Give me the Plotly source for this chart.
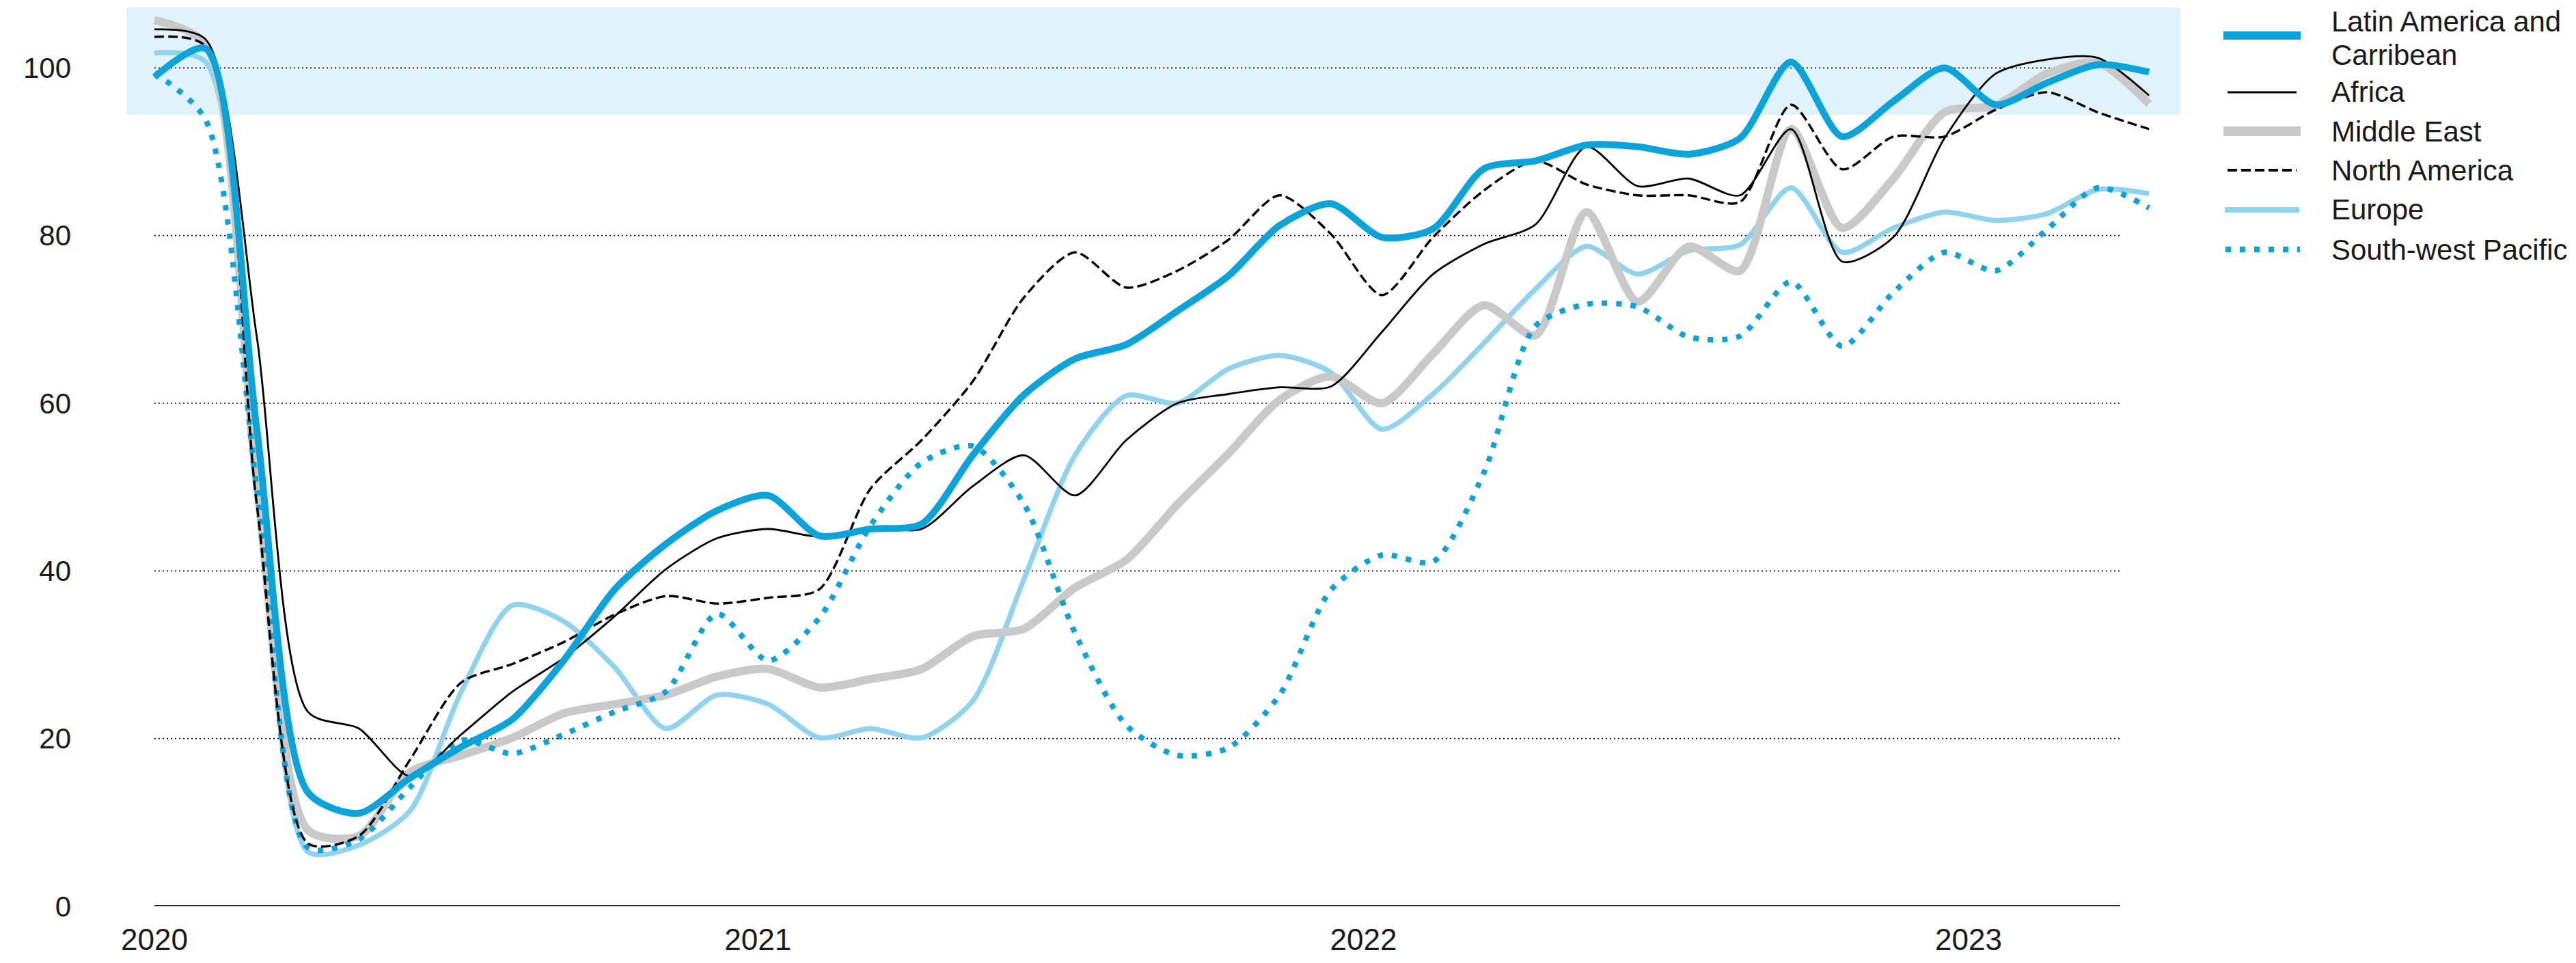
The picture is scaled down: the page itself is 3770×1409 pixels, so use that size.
import plotly.graph_objects as go

# ---------------- data (monthly, Jan 2020 - Apr 2023) ----------------
latin_america = [98.9, 102.3, 57.0, 13.6, 11.1, 15.3, 19.0, 22.3, 29.3, 37.8,
                 43.2, 47.2, 49.0, 44.2, 45.0, 45.6, 53.8, 61.0, 65.3, 67.0,
                 71.0, 75.2, 81.2, 83.8, 79.8, 80.8, 88.0, 88.9, 90.8, 90.6,
                 89.7, 91.6, 100.7, 91.8, 96.0, 100.0, 95.6, 98.2, 100.4, 99.5]
africa = [104.6, 103.4, 68.0, 23.2, 21.2, 15.5, 20.5, 25.6, 29.6, 34.6,
          40.2, 43.9, 45.0, 44.1, 45.2, 45.0, 50.1, 53.8, 49.0, 55.6,
          60.0, 61.1, 61.9, 62.0, 68.5, 75.4, 79.0, 81.3, 90.6, 85.9,
          86.8, 84.8, 92.7, 76.9, 79.8, 91.6, 99.3, 101.0, 101.2, 96.7]
middle_east = [105.7, 102.8, 50.5, 9.1, 8.4, 16.0, 18.0, 20.1, 23.0, 24.1,
               25.2, 27.4, 28.3, 26.1, 27.1, 28.3, 32.2, 33.1, 38.0, 41.3,
               47.9, 54.0, 60.4, 63.2, 60.0, 65.9, 71.7, 68.1, 82.8, 72.1,
               78.7, 75.8, 92.7, 80.9, 86.8, 94.7, 95.5, 99.3, 100.6, 95.7]
north_america = [103.7, 102.6, 48.0, 7.5, 8.4, 17.5, 26.7, 28.9, 31.5, 34.8,
                 37.0, 36.1, 36.8, 37.8, 49.8, 55.6, 62.6, 72.6, 78.0, 73.8,
                 75.8, 79.5, 84.8, 80.2, 72.9, 79.8, 85.4, 88.9, 86.1, 84.8,
                 84.8, 84.0, 95.6, 87.9, 91.8, 91.8, 95.0, 97.1, 94.7, 92.7]
europe = [101.8, 100.7, 53.0, 6.5, 7.3, 11.4, 25.6, 35.9, 34.0, 28.5,
          21.2, 25.2, 24.1, 20.1, 21.2, 20.1, 24.5, 39.0, 53.8, 60.9,
          60.0, 64.1, 65.7, 63.7, 56.9, 61.1, 67.2, 73.6, 78.7, 75.4,
          78.2, 78.9, 85.7, 78.0, 80.9, 82.8, 81.8, 82.6, 85.5, 85.0]
south_west_pacific = [99.4, 93.8, 50.0, 7.0, 8.0, 14.2, 19.8, 18.2, 20.5, 23.2,
                      25.6, 34.9, 29.3, 34.4, 45.4, 52.9, 54.9, 48.0, 32.6, 21.6,
                      18.0, 18.9, 25.2, 37.7, 41.9, 41.1, 51.8, 69.2, 71.8, 71.5,
                      67.9, 68.0, 74.5, 66.8, 73.2, 78.0, 75.8, 80.7, 85.7, 83.3]

series_names = ["Latin America and Carribean", "Africa", "Middle East",
                "North America", "Europe", "South-west Pacific"]
legend_text_lines = [["Latin America and", "Carribean"], ["Africa"], ["Middle East"],
                     ["North America"], ["Europe"], ["South-west Pacific"]]
year_labels = ["2020", "2021", "2022", "2023"]
y_ticks = [0, 20, 40, 60, 80, 100]
recovery_band = [94.4, 107.2]

month_index = list(range(len(latin_america)))

# ---------------- styling ----------------
# the page body has an 8px margin; the figure is sized/positioned to compensate
OFF = 8
W, H = 3770 - 2 * OFF, 1409 - 2 * OFF
PLOT_L, PLOT_R, PLOT_T, PLOT_B = 185 - OFF, 3191 - OFF, 11 - OFF, 1326 - OFF
ML, MR, MT, MB = PLOT_L, W - PLOT_R, PLOT_T, H - PLOT_B
PW = PLOT_R - PLOT_L
PH = PLOT_B - PLOT_T
FONT = "Liberation Sans, Arial, sans-serif"
TXT = "#1a1a1a"

BLUE = "#0AA3DA"
GREY = "#C9C9C9"
LIGHT = "#8FD3EF"
BLACK = "#000000"

styles = {
    "Latin America and Carribean": dict(color=BLUE, width=10, dash="solid"),
    "Africa": dict(color=BLACK, width=2.8, dash="solid"),
    "Middle East": dict(color=GREY, width=12, dash="solid"),
    "North America": dict(color=BLACK, width=3.4, dash="14px,6px"),
    "Europe": dict(color=LIGHT, width=7.5, dash="solid"),
    "South-west Pacific": dict(color=BLUE, width=8, dash="8px,13px"),
}
values = {
    "Latin America and Carribean": latin_america,
    "Africa": africa,
    "Middle East": middle_east,
    "North America": north_america,
    "Europe": europe,
    "South-west Pacific": south_west_pacific,
}
draw_order = ["Europe", "Middle East", "South-west Pacific", "North America",
              "Africa", "Latin America and Carribean"]

# month spacing in (screen) pixels / axis range
X0_PX = 226.0
STEP_PX = 74.85
x_min = (185 - X0_PX) / STEP_PX
x_max = (3191 - X0_PX) / STEP_PX
grid_end = (3103 - X0_PX) / STEP_PX
year_tick_pos = [0, 11.8, 23.64, 35.47]

fig = go.Figure()
for name in draw_order:
    s = styles[name]
    fig.add_trace(go.Scatter(
        x=month_index, y=values[name], mode="lines", name=name,
        line=dict(color=s["color"], width=s["width"], dash=s["dash"],
                  shape="spline", smoothing=0.75),
        hoverinfo="skip", showlegend=False,
    ))

shapes = []
# shaded band
shapes.append(dict(type="rect", xref="paper", yref="y", x0=0, x1=1,
                   y0=recovery_band[0], y1=recovery_band[1],
                   fillcolor="#E0F2FA", line=dict(width=0), layer="below"))
# dotted gridlines
for v in y_ticks[1:]:
    shapes.append(dict(type="line", xref="x", yref="y", x0=0, x1=grid_end,
                       y0=v, y1=v, line=dict(color="#111111", width=1.7,
                                             dash="2px,4px"), layer="below"))
# baseline
shapes.append(dict(type="line", xref="x", yref="y", x0=0, x1=grid_end,
                   y0=0, y1=0, line=dict(color="#000000", width=3.4),
                   layer="above"))


def px_x(p):
    # screen pixel -> paper x
    return (p - OFF - PLOT_L) / PW


def px_y(p):
    # screen pixel -> paper y
    return (PLOT_B - (p - OFF)) / PH


# custom legend
legend_rows = [52, 135, 192, 249, 307, 365]
legend_x = {
    "Latin America and Carribean": (3254, 3367),
    "Africa": (3260, 3361),
    "Middle East": (3254, 3367),
    "North America": (3260, 3361),
    "Europe": (3256, 3365),
    "South-west Pacific": (3257, 3366),
}
LINE_GAP = 49
annotations = []
for name, yy, lines in zip(series_names, legend_rows, legend_text_lines):
    s = styles[name]
    x0, x1 = legend_x[name]
    shapes.append(dict(type="line", xref="paper", yref="paper",
                       x0=px_x(x0), x1=px_x(x1), y0=px_y(yy), y1=px_y(yy),
                       line=dict(color=s["color"],
                                 width=s["width"] + (2 if s["width"] >= 9 else 0.4),
                                 dash=s["dash"])))
    n = len(lines)
    first = yy - (n - 1) * LINE_GAP / 2 + (4 if n > 1 else 0)
    for k, txt in enumerate(lines):
        annotations.append(dict(xref="paper", yref="paper", x=px_x(3410),
                                y=px_y(first + k * LINE_GAP),
                                text=txt, showarrow=False, xanchor="left",
                                yanchor="middle", align="left",
                                font=dict(family=FONT, size=42, color=TXT)))

fig.update_layout(
    width=W, height=H,
    margin=dict(l=ML, r=MR, t=MT, b=MB, autoexpand=False),
    paper_bgcolor="white", plot_bgcolor="white",
    shapes=shapes, annotations=annotations,
    showlegend=False,
    xaxis=dict(range=[x_min, x_max], showgrid=False, zeroline=False,
               showline=False, tickmode="array", tickvals=year_tick_pos,
               ticktext=year_labels, ticks="", ticklabelstandoff=19,
               tickfont=dict(family=FONT, size=44, color=TXT),
               automargin=False, fixedrange=True),
    yaxis=dict(range=[0, recovery_band[1]], showgrid=False, zeroline=False,
               showline=False, tickmode="array", tickvals=y_ticks,
               ticktext=[str(v) for v in y_ticks], ticks="",
               ticklabelstandoff=80,
               tickfont=dict(family=FONT, size=42, color=TXT),
               automargin=False, fixedrange=True),
)

fig.write_html("out.html")
